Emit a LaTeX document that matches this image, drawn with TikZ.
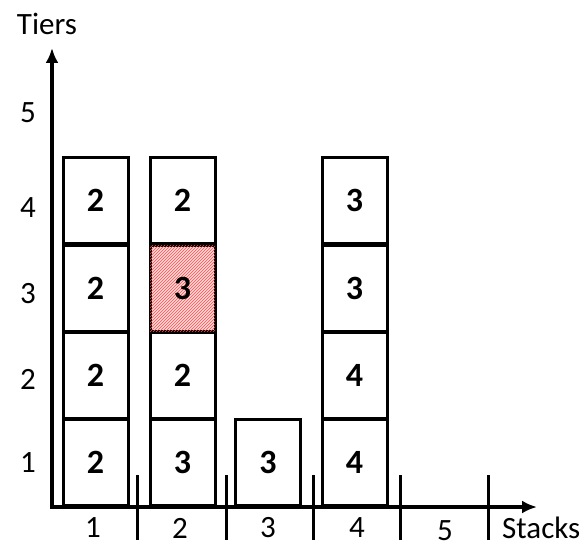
\documentclass[tikz,border=0pt]{standalone}
\usepackage{fontspec}
\setmainfont{Carlito}
\usetikzlibrary{arrows.meta,patterns}

\begin{document}
\begin{tikzpicture}[x=1pt,y=-1pt,
    slot/.style={draw,line width=3pt,minimum width=65pt,minimum height=86pt,inner sep=0pt,font=\fontsize{34}{36}\selectfont\bfseries},
    target/.style={slot,fill=red!15,postaction={pattern=north east lines,pattern color=red!70}},
    axis/.style={line width=4pt,-{Latex[length=15pt,width=13pt]}},
    tickmark/.style={line width=3pt},
    lbl/.style={font=\fontsize{31}{34}\selectfont,inner sep=0pt}
  ]
    \useasboundingbox (0,0) rectangle (585,548);

    % containers, stack by stack
    \node[slot] (s1t1) at (95.5,462) {2};
    \node[slot] (s1t2) at (95.5,375) {2};
    \node[slot] (s1t3) at (95.5,288) {2};
    \node[slot] (s1t4) at (95.5,200) {2};
    \node[slot] (s2t1) at (182.5,462) {3};
    \node[slot] (s2t2) at (182.5,375) {2};
    \node[target] (s2t3) at (182.5,288) {3};
    \node[slot] (s2t4) at (182.5,200) {2};
    \node[slot] (s3t1) at (268,462) {3};
    \node[slot] (s4t1) at (354.5,462) {4};
    \node[slot] (s4t2) at (354.5,375) {4};
    \node[slot] (s4t3) at (354.5,288) {3};
    \node[slot] (s4t4) at (354.5,200) {3};

    % axes
    \coordinate (o) at (52,507);
    \coordinate (ytop) at (52,48);
    \coordinate (xend) at (537,507);
    \draw[axis] (o) -- (ytop);
    \draw[axis] ([xshift=-2pt]o) -- (xend);
    \node[lbl] (tiers) at (47,24) {Tiers};
    \node[lbl,anchor=west] (stacks) at (502,528) {Stacks};

    % tier labels
    \node[lbl] (y1) at (28,463) {1};
    \node[lbl] (y2) at (28,379) {2};
    \node[lbl] (y3) at (28,294) {3};
    \node[lbl] (y4) at (28,208) {4};
    \node[lbl] (y5) at (28,113) {5};

    % stack separators and labels
    \coordinate (c1) at (137,475);
    \coordinate (c2) at (226,475);
    \coordinate (c3) at (313,475);
    \coordinate (c4) at (400,475);
    \coordinate (c5) at (488,475);
    \draw[tickmark] (c1) -- ++(0,65);
    \draw[tickmark] (c2) -- ++(0,65);
    \draw[tickmark] (c3) -- ++(0,65);
    \draw[tickmark] (c4) -- ++(0,65);
    \draw[tickmark] (c5) -- ++(0,65);
    \node[lbl] (x1) at (93,528) {1};
    \node[lbl] (x2) at (180,528) {2};
    \node[lbl] (x3) at (268,528) {3};
    \node[lbl] (x4) at (357,528) {4};
    \node[lbl] (x5) at (445,531) {5};
  \end{tikzpicture}
\end{document}
